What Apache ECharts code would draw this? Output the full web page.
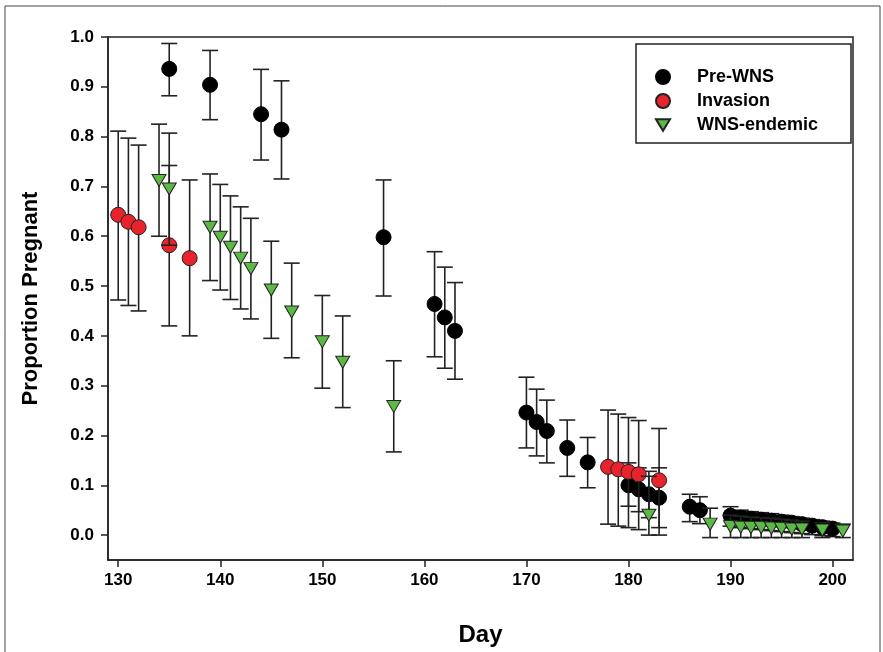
<!DOCTYPE html>
<html>
<head>
<meta charset="utf-8">
<script src="https://cdn.jsdelivr.net/npm/echarts@6/dist/echarts.min.js"></script>
<style>
  html, body { margin: 0; padding: 0; background: #fff; }
  #main { width: 883px; height: 652px; }
</style>
</head>
<body>
<div id="main"></div>
<script>
// tick labels
var xTicks = [130, 140, 150, 160, 170, 180, 190, 200]
var yTicks = [0, 0.1, 0.2, 0.3, 0.4, 0.5, 0.6, 0.7, 0.8, 0.9, 1.0]

// Pre-WNS (black circles)
var preDays = [135, 139, 144, 146, 156, 161, 162, 163, 170, 171, 172, 174, 176, 180, 181, 182, 183, 186, 187,
  190, 191, 192, 193, 194, 195, 196, 197, 198, 199, 200]
var preVals = [0.936, 0.904, 0.845, 0.814, 0.598, 0.464, 0.437, 0.410, 0.246, 0.227, 0.209, 0.175, 0.146, 0.100, 0.092, 0.082, 0.075, 0.057, 0.050,
  0.039, 0.035, 0.033, 0.031, 0.029, 0.027, 0.025, 0.022, 0.019, 0.016, 0.013]
var preLo = [0.882, 0.834, 0.753, 0.715, 0.480, 0.358, 0.335, 0.313, 0.175, 0.159, 0.145, 0.118, 0.095, 0.058, 0.047, 0.035, 0.015, 0.027, 0.023,
  0.018, 0.015, 0.013, 0.011, 0.009, 0.007, 0.005, 0.003, 0.001, -0.001, -0.003]
var preHi = [0.987, 0.973, 0.935, 0.912, 0.713, 0.569, 0.538, 0.507, 0.317, 0.293, 0.271, 0.231, 0.196, 0.145, 0.135, 0.128, 0.135, 0.082, 0.077,
  0.057, 0.050, 0.047, 0.045, 0.043, 0.040, 0.037, 0.034, 0.031, 0.028, 0.024]

// Invasion (red circles)
var invDays = [130, 131, 132, 135, 137, 178, 179, 180, 181, 183]
var invVals = [0.643, 0.629, 0.618, 0.582, 0.556, 0.137, 0.132, 0.127, 0.122, 0.110]
var invLo = [0.472, 0.461, 0.450, 0.420, 0.400, 0.022, 0.018, 0.015, 0.011, 0.000]
var invHi = [0.811, 0.797, 0.783, 0.742, 0.713, 0.251, 0.243, 0.236, 0.230, 0.214]

// WNS-endemic (green down triangles)
var endDays = [134, 135, 139, 140, 141, 142, 143, 145, 147, 150, 152, 157, 182, 188,
  190, 191, 192, 193, 194, 195, 196, 197, 199, 201]
var endVals = [0.712, 0.695, 0.618, 0.598, 0.578, 0.556, 0.535, 0.492, 0.448, 0.388, 0.347, 0.258, 0.040, 0.022,
  0.017, 0.016, 0.015, 0.015, 0.014, 0.013, 0.012, 0.012, 0.010, 0.008]
var endLo = [0.600, 0.582, 0.511, 0.492, 0.473, 0.454, 0.434, 0.395, 0.356, 0.295, 0.256, 0.167, 0.000, -0.005,
  -0.005, -0.005, -0.005, -0.005, -0.005, -0.005, -0.005, -0.005, -0.005, -0.005]
var endHi = [0.825, 0.807, 0.725, 0.704, 0.681, 0.659, 0.636, 0.590, 0.546, 0.481, 0.440, 0.350, 0.118, 0.054,
  0.040, 0.038, 0.036, 0.035, 0.034, 0.032, 0.030, 0.028, 0.025, 0.022]

var font = 'Liberation Sans, Arial, sans-serif'
var triDown = 'path://M0,0 L12,0 L6,10 Z'

function pts(days, vals) {
  return days.map(function (d, i) { return [d, vals[i]] })
}
function bars(days, lo, hi) {
  return days.map(function (d, i) { return [d, lo[i], hi[i]] })
}

// error bar with caps
function renderBar(params, api) {
  var x = api.value(0)
  var a = api.coord([x, api.value(1)])
  var b = api.coord([x, api.value(2)])
  var hw = 8
  var st = { stroke: '#222', lineWidth: 1.6 }
  return {
    type: 'group',
    children: [
      { type: 'line', shape: { x1: a[0], y1: a[1], x2: b[0], y2: b[1] }, style: st },
      { type: 'line', shape: { x1: a[0] - hw, y1: a[1], x2: a[0] + hw, y2: a[1] }, style: st },
      { type: 'line', shape: { x1: b[0] - hw, y1: b[1], x2: b[0] + hw, y2: b[1] }, style: st }
    ]
  }
}

var myChart = echarts.init(document.getElementById('main'))

var option = {
  backgroundColor: '#fff',
  animation: false,
  graphic: [
    { type: 'rect', shape: { x: 5, y: 6, width: 875, height: 680 }, style: { fill: 'none', stroke: '#444', lineWidth: 1 }, z: 0 },
    { type: 'rect', shape: { x: 636, y: 44, width: 215, height: 99 }, style: { fill: '#fff', stroke: '#222', lineWidth: 1.5 }, z: 20 }
  ],
  grid: {
    left: 108, right: 30, top: 37, bottom: 92,
    show: true, borderColor: '#222', borderWidth: 1.5, backgroundColor: 'transparent'
  },
  legend: {
    orient: 'vertical',
    left: 650, top: 62,
    z: 30,
    itemWidth: 14, itemHeight: 14, itemGap: 4,
    textStyle: { fontFamily: font, fontWeight: 'bold', fontSize: 18, color: '#000', lineHeight: 20, padding: [0, 0, 0, 22] },
    data: ['Pre-WNS', 'Invasion', 'WNS-endemic']
  },
  xAxis: {
    type: 'value', min: 129, max: 202,
    name: 'Day', nameLocation: 'middle', nameGap: 63,
    nameTextStyle: { fontFamily: font, fontWeight: 'bold', fontSize: 24, color: '#000' },
    axisLine: { show: true, onZero: false, lineStyle: { color: '#222', width: 1.5 } },
    axisTick: { show: true, length: 7, lineStyle: { color: '#222', width: 1.5 }, customValues: xTicks },
    axisLabel: { margin: 12, fontFamily: font, fontWeight: 'bold', fontSize: 17, color: '#000', customValues: xTicks },
    splitLine: { show: false }
  },
  yAxis: {
    type: 'value', min: -0.05, max: 1.0,
    name: 'Proportion Pregnant', nameLocation: 'middle', nameGap: 66,
    nameTextStyle: { fontFamily: font, fontWeight: 'bold', fontSize: 22, color: '#000' },
    axisLine: { show: true, onZero: false, lineStyle: { color: '#222', width: 1.5 } },
    axisTick: { show: true, length: 7, lineStyle: { color: '#222', width: 1.5 }, customValues: yTicks },
    axisLabel: {
      margin: 14, fontFamily: font, fontWeight: 'bold', fontSize: 17, color: '#000', customValues: yTicks,
      formatter: function (v) { return v.toFixed(1) }
    },
    splitLine: { show: false }
  },
  series: [
    { type: 'custom', name: 'preBars', renderItem: renderBar, data: bars(preDays, preLo, preHi), z: 2 },
    {
      type: 'scatter', name: 'Pre-WNS', data: pts(preDays, preVals), z: 3,
      symbol: 'circle', symbolSize: 15,
      itemStyle: { color: '#000', borderColor: '#000', borderWidth: 1, opacity: 1 }
    },
    { type: 'custom', name: 'invBars', renderItem: renderBar, data: bars(invDays, invLo, invHi), z: 4 },
    {
      type: 'scatter', name: 'Invasion', data: pts(invDays, invVals), z: 5,
      symbol: 'circle', symbolSize: 15,
      itemStyle: { color: '#e8232b', borderColor: '#222', borderWidth: 1, opacity: 1 }
    },
    { type: 'custom', name: 'endBars', renderItem: renderBar, data: bars(endDays, endLo, endHi), z: 6 },
    {
      type: 'scatter', name: 'WNS-endemic', data: pts(endDays, endVals), z: 7,
      symbol: triDown, symbolSize: [14, 12],
      itemStyle: { color: '#5cb946', borderColor: '#222', borderWidth: 1, opacity: 1 }
    }
  ]
}

myChart.setOption(option)
</script>
</body>
</html>
